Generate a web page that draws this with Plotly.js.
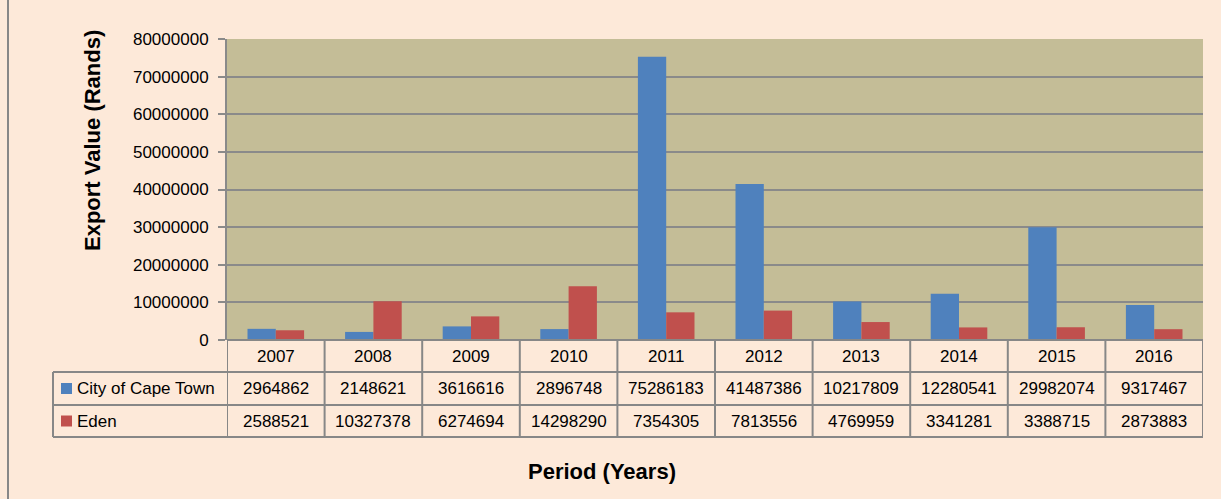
<!DOCTYPE html>
<html>
<head>
<meta charset="utf-8">
<script src="https://cdn.plot.ly/plotly-3.0.1.min.js"></script>
<style>
html,body{margin:0;padding:0;background:#FDE9D9;}
#chart{width:1221px;height:499px;}
</style>
</head>
<body>
<div id="chart"></div>
<script>
var years = ["2007","2008","2009","2010","2011","2012","2013","2014","2015","2016"];
var capeTown = [2964862, 2148621, 3616616, 2896748, 75286183, 41487386, 10217809, 12280541, 29982074, 9317467];
var eden = [2588521, 10327378, 6274694, 14298290, 7354305, 7813556, 4769959, 3341281, 3388715, 2873883];
var seriesNames = ["City of Cape Town", "Eden"];
var seriesColors = ["#4F81BD", "#C0504D"];
var seriesValues = [capeTown, eden];

var W = 1221, H = 499;
var L = 227, R = 18, T = 39, B = 159;
var plotW = W - L - R, plotH = H - T - B;
function px2x(p){ return (p - L) / plotW; }
function py2y(p){ return (H - B - p) / plotH; }

var traces = seriesNames.map(function(n, i){
  return {type:'bar', name:n, x:years, y:seriesValues[i],
    marker:{color:seriesColors[i]}, hoverinfo:'x+y+name'};
});

var lineCol = '#878787';
var shapes = [];
var annotations = [];
shapes.push({type:'line', xref:'paper', yref:'paper', x0:px2x(8), x1:px2x(8), y0:py2y(0), y1:py2y(499), line:{color:'#878787', width:2}});
var rowY = [340, 372, 405, 437];
rowY.forEach(function(yp, k){
  shapes.push({type:'line', xref:'paper', yref:'paper', x0:(k===0?0:px2x(53)), x1:1, y0:py2y(yp), y1:py2y(yp), line:{color:lineCol, width:2}});
});
for (var i = 0; i <= years.length; i++) {
  shapes.push({type:'line', xref:'x', yref:'paper', x0:i-0.5, x1:i-0.5, y0:py2y(340), y1:py2y(437), line:{color:lineCol, width:2}});
}
shapes.push({type:'line', xref:'paper', yref:'paper', x0:px2x(53), x1:px2x(53), y0:py2y(372), y1:py2y(437), line:{color:lineCol, width:2}});

var tfont = {family:'Liberation Sans, Arial, sans-serif', size:17, color:'#000'};
years.forEach(function(yr, i){
  annotations.push({xref:'x', yref:'paper', x:i, y:py2y(356.5), text:yr, showarrow:false, font:tfont, xanchor:'center', yanchor:'middle'});
});
var rowCenters = [388.5, 421];
seriesNames.forEach(function(n, s){
  var cy = rowCenters[s];
  shapes.push({type:'rect', xref:'paper', yref:'paper', x0:px2x(61), x1:px2x(72), y0:py2y(cy-5.5), y1:py2y(cy+5.5), fillcolor:seriesColors[s], line:{width:0}});
  annotations.push({xref:'paper', yref:'paper', x:px2x(75), y:py2y(cy), text:n, showarrow:false, font:tfont, xanchor:'left', yanchor:'middle'});
  seriesValues[s].forEach(function(v, i){
    annotations.push({xref:'x', yref:'paper', x:i, y:py2y(cy), text:String(v), showarrow:false, font:tfont, xanchor:'center', yanchor:'middle'});
  });
});
annotations.push({xref:'paper', yref:'paper', x:px2x(92), y:py2y(141), text:'<b>Export Value (Rands)</b>', textangle:-90, showarrow:false,
  font:{family:'Liberation Sans, Arial, sans-serif', size:22, color:'#000'}, xanchor:'center', yanchor:'middle'});
annotations.push({xref:'paper', yref:'paper', x:px2x(602), y:py2y(471), text:'<b>Period (Years)</b>', showarrow:false,
  font:{family:'Liberation Sans, Arial, sans-serif', size:22, color:'#000'}, xanchor:'center', yanchor:'middle'});

var layout = {
  width:W, height:H,
  margin:{l:L, r:R, t:T, b:B, pad:0},
  paper_bgcolor:'#FDE9D9', plot_bgcolor:'#C4BD97',
  showlegend:false,
  barmode:'group', bargap:0.42, bargroupgap:0,
  font:tfont,
  xaxis:{type:'category', range:[-0.5, years.length-0.5], showticklabels:false, ticks:'', showgrid:false, zeroline:false, showline:false, fixedrange:true},
  yaxis:{range:[0, 80000000], dtick:10000000, tickformat:'d', showgrid:true, gridcolor:'#8A8A8A', gridwidth:2,
    zeroline:false, showline:true, linecolor:'#8A8A8A', linewidth:2, ticks:'outside', ticklen:7, tickcolor:'#8A8A8A', tickwidth:2,
    ticklabelstandoff:6, tickfont:tfont, fixedrange:true},
  shapes:shapes, annotations:annotations
};
Plotly.newPlot('chart', traces, layout, {displayModeBar:false, staticPlot:true});
</script>
</body>
</html>
